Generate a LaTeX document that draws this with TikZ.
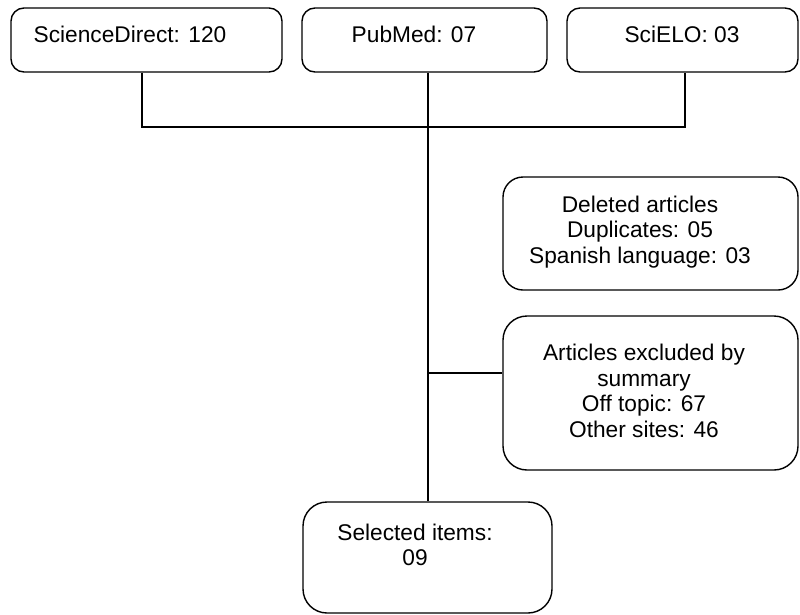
\documentclass[tikz,border=0pt]{standalone}
\usepackage{fontspec}
\setmainfont{Liberation Sans}
\begin{document}
\begin{tikzpicture}[x=1pt,y=-1pt,line width=1.4pt,
    box/.style={draw,rounded corners=#1,inner sep=0pt},
    box/.default=13pt,
    lbl/.style={align=center,inner sep=0pt,font=\fontsize{22.7}{25.5}\selectfont}]
        \useasboundingbox (0,0) rectangle (800,614);

        % Source databases
        \node[box,minimum width=271pt,minimum height=64pt] (sd) at (146.5,40) {};
        \node[box,minimum width=245pt,minimum height=64pt] (pm) at (424.5,40) {};
        \node[box,minimum width=231pt,minimum height=64pt] (sc) at (682.5,40) {};
        \node[lbl,anchor=base] (sdt) at (130,42) {ScienceDirect: 120};
        \node[lbl,anchor=base] (pmt) at (414,42) {PubMed: 07};
        \node[lbl,anchor=base] (sct) at (682,42) {SciELO: 03};

        % Removed articles
        \node[box=20pt,minimum width=295pt,minimum height=113pt] (del) at (650.5,233.5) {};
        \node[lbl] (delt) at (640,232) {Deleted articles\\Duplicates: 05\\Spanish language: 03};
        \node[box=24pt,minimum width=295pt,minimum height=154pt] (exc) at (650.5,393) {};
        \node[lbl] (exct) at (644,391) {Articles excluded by\\summary\\Off topic: 67\\Other sites: 46};

        % Result
        \node[box=24pt,minimum width=249pt,minimum height=111pt] (sel) at (427.5,557.5) {};
        \node[lbl] (selt) at (415,545) {Selected items:\\09};

        % Connectors
        \coordinate (busL) at (142,127);
        \coordinate (busR) at (685,127);
        \coordinate (trunk) at (428,127);
        \coordinate (tap) at (428,373);
        \draw (sd.south -| busL) -- (busL) -- (busR) -- (sc.south -| busR);
        \draw (pm.south -| trunk) -- (sel.north -| trunk);
        \draw (tap) -- (tap -| exc.west);
\end{tikzpicture}
\end{document}
